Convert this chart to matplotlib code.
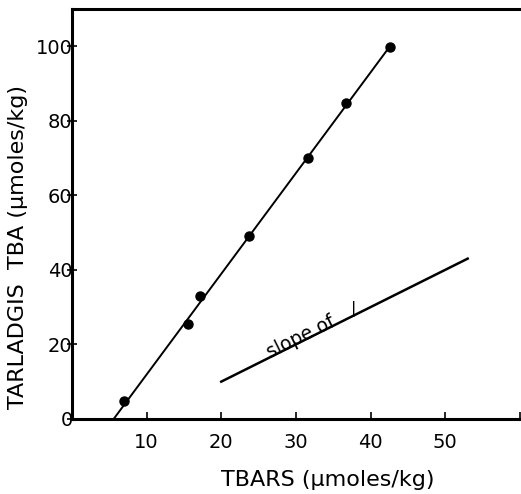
import matplotlib

matplotlib.use("Agg")

import matplotlib.pyplot as plt
import numpy as np

# data
TBARS = [7.0, 15.6, 17.1, 23.7, 31.6, 36.7, 42.6]
TBA = [4.8, 25.4, 33.0, 49.0, 70.1, 84.7, 99.8]
FIT_X = [5.6, 42.6]
FIT_Y = [0.0, 100.0]
SLOPE_X = [20.0, 53.0]
SLOPE_Y = [10.0, 43.0]
X_TICKS = [10, 20, 30, 40, 50]
Y_TICKS = [0, 20, 40, 60, 80, 100]

plt.rcParams["font.family"] = ["DejaVu Sans"]

fig = plt.figure(figsize=(5.21, 4.94), dpi=100)
ax = fig.add_axes([0.138, 0.152, 0.860, 0.830])

ax.plot(FIT_X, FIT_Y, color="black", lw=1.4)
ax.plot(TBARS, TBA, "o", color="black", ms=6.5)
ax.plot(SLOPE_X, SLOPE_Y, color="black", lw=1.8)

# "slope of 1" annotation sitting on the reference line
ax.text(31.0, 20.5, "slope of", rotation=26.4, rotation_mode="anchor",
        ha="center", va="baseline", fontsize=13.5)
ax.text(37.8, 27.3, "|", ha="center", va="bottom", fontsize=11.5)

ax.set_xlim(0, 60)
ax.set_ylim(0, 110)
ax.set_xticks(X_TICKS)
ax.set_xticks([60], minor=True)
ax.set_yticks(Y_TICKS)

for side in ["left", "top", "bottom"]:
    ax.spines[side].set_linewidth(2.2)
ax.spines["right"].set_visible(False)

ax.tick_params(axis="x", which="both", direction="in", length=5, width=1.2,
               labelsize=14, pad=10)
ax.tick_params(axis="y", direction="inout", length=7, width=1.2,
               labelsize=14, pad=-4)

ax.set_xlabel("TBARS (\u00b5moles/kg)", fontsize=16)
ax.set_ylabel("TARLADGIS  TBA (\u00b5moles/kg)", fontsize=16)
ax.xaxis.set_label_coords(0.57, -0.125)
ax.yaxis.set_label_coords(-0.098, 0.42)

fig.savefig("out.png", dpi=100)
